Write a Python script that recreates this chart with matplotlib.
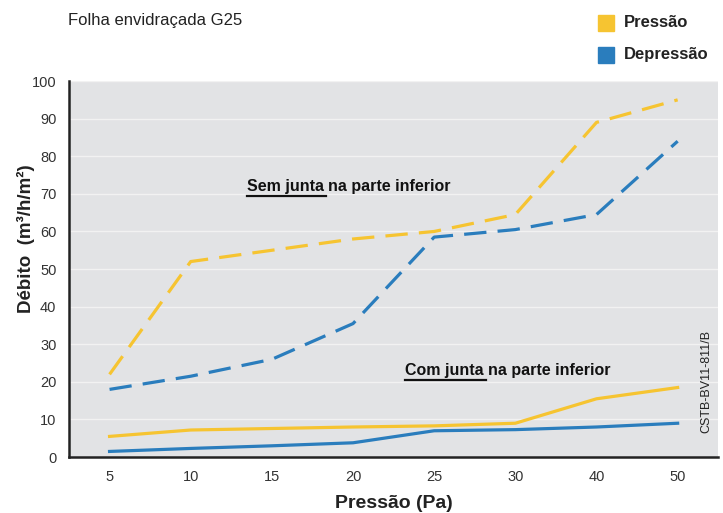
import matplotlib.pyplot as plt
import matplotlib.patches as mpatches
import numpy as np

plt.rcParams['font.family'] = ['Liberation Sans', 'DejaVu Sans']

# Data
pressures = ['5', '10', '15', '20', '25', '30', '40', '50']
sem_pressao = [22, 52, 55, 58, 60, 64.5, 89, 95]
sem_depressao = [18, 21.5, 26, 35.5, 58.5, 60.5, 64.5, 84]
com_pressao = [5.5, 7.2, 7.6, 8, 8.3, 9, 15.5, 18.5]
com_depressao = [1.5, 2.3, 3, 3.8, 7, 7.3, 8, 9]

yellow = '#f6c431'
blue = '#2a7dbd'

fig = plt.figure(figsize=(7.23, 5.13), dpi=100)
ax = fig.add_axes([0.0954, 0.109, 0.898, 0.733])
ax.set_facecolor('#e2e3e5')

x = np.arange(len(pressures))
ax.plot(x, sem_pressao, color=yellow, lw=2.3, dashes=(7, 3.5))
ax.plot(x, sem_depressao, color=blue, lw=2.3, dashes=(7, 3.5))
ax.plot(x, com_pressao, color=yellow, lw=2.3)
ax.plot(x, com_depressao, color=blue, lw=2.3)

ax.set_xlim(-0.5, 7.5)
ax.set_ylim(0, 100)
ax.set_xticks(x)
ax.set_xticklabels(pressures)
ax.set_yticks(range(0, 101, 10))
ax.tick_params(length=0, labelsize=10.5, colors='#333333', pad=9)
ax.yaxis.grid(True, color='#f2f2f2', lw=1)
ax.set_axisbelow(True)
for s in ['top', 'right']:
    ax.spines[s].set_visible(False)
for s in ['left', 'bottom']:
    ax.spines[s].set_linewidth(1.8)
    ax.spines[s].set_color('#222222')

ax.set_xlabel('Pressão (Pa)', fontsize=14, fontweight='bold', labelpad=8, color='#222222')
ax.set_ylabel('Débito  (m³/h/m²)', fontsize=13.5, fontweight='bold', color='#222222')
ax.yaxis.set_label_coords(-0.052, 0.582)

fig.text(68 / 723, 1 - 20 / 513, 'Folha envidraçada G25', fontsize=12, va='center', ha='left', color='#222222')

# Legend
for i, (lab, col) in enumerate([('Pressão', yellow), ('Depressão', blue)]):
    yc = 23 + i * 32
    fig.patches.append(mpatches.Rectangle((598 / 723, 1 - (yc + 8) / 513), 16 / 723, 16 / 513,
                                          transform=fig.transFigure, color=col))
    fig.text(624 / 723, 1 - yc / 513, lab, fontsize=12, fontweight='bold', va='center', ha='left',
             color='#222222')


def underlined(xi, yv, first, rest):
    t1 = ax.text(xi, yv, first, fontsize=11.5, fontweight='bold', va='center', ha='left',
                 color='#111111')
    fig.canvas.draw()
    bb = t1.get_window_extent().transformed(ax.transData.inverted())
    ax.plot([bb.x0, bb.x1 + 0.03], [bb.y0 - 0.5, bb.y0 - 0.5], color='#111111', lw=1.6, clip_on=False)
    ax.text(bb.x1 + 0.05, yv, rest, fontsize=11.5, fontweight='bold', va='center', ha='left',
            color='#111111')


underlined(1.69, 72, 'Sem junta', 'na parte inferior')
underlined(3.64, 22.9, 'Com junta', 'na parte inferior')

ax.text(7.35, 20, 'CSTB-BV11-811/B', rotation=90, fontsize=9, va='center', ha='center',
        color='#222222')

fig.savefig('out.png', dpi=100)
